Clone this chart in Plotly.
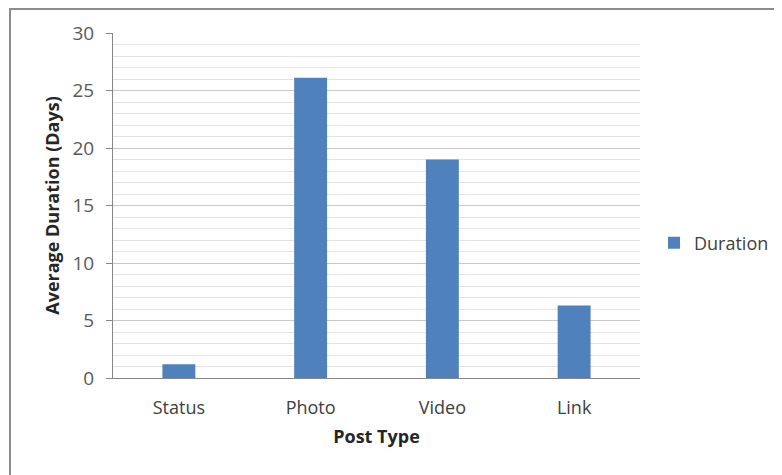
import plotly.graph_objects as go

post_types = ["Status", "Photo", "Video", "Link"]
duration = [1.2, 26.1, 19.0, 6.3]

# page body adds an 8px offset, so the figure is 8px smaller than the window
W, H = 774, 467
L, R, T, B = 105, 142, 25, 97
pw, ph = W - L - R, H - T - B

fig = go.Figure()
fig.add_trace(go.Bar(
    x=post_types,
    y=duration,
    name="Duration",
    marker=dict(color="#4f81bd", line=dict(width=0)),
    width=0.25
))

fig.update_layout(
    width=W,
    height=H,
    margin=dict(l=L, r=R, t=T, b=B, autoexpand=False),
    paper_bgcolor="white",
    plot_bgcolor="white",
    font=dict(family="Open Sans", color="#595959", size=17),
    showlegend=True,
    legend=dict(
        x=(646 - L) / pw, y=(H - B - 235) / ph,
        xanchor="left", yanchor="middle",
        font=dict(size=18, color="#404040"),
        bgcolor="rgba(0,0,0,0)"
    ),
    xaxis=dict(
        title=dict(text="<b>Post Type</b>", font=dict(size=18, color="#262626"), standoff=12),
        range=[-0.5, 3.5],
        showline=True, linecolor="#868686", linewidth=1,
        ticks="", ticklabelstandoff=13, showgrid=False,
        tickfont=dict(size=18, color="#404040")
    ),
    yaxis=dict(
        title=dict(text="<b>Average Duration (Days)</b>", font=dict(size=18, color="#262626"), standoff=8),
        range=[0, 30], dtick=5,
        showline=True, linecolor="#868686", linewidth=1,
        ticks="outside", ticklen=6, tickcolor="#868686", ticklabelstandoff=8,
        showgrid=True, gridcolor="#c8c8c8", gridwidth=1,
        minor=dict(dtick=1, showgrid=True, gridcolor="#e3e3e3", gridwidth=1),
        tickfont=dict(size=19, color="#595959"),
        zeroline=False
    ),
)

# chart frame, cropped at right and bottom
fig.add_shape(
    type="rect", xref="paper", yref="paper",
    x0=(2 - L) / pw, x1=(W + 10 - L) / pw,
    y0=(H - B - (H + 10)) / ph, y1=(H - B - 1) / ph,
    line=dict(color="#8c8c8c", width=2), layer="below"
)

fig.write_html("out.html")
